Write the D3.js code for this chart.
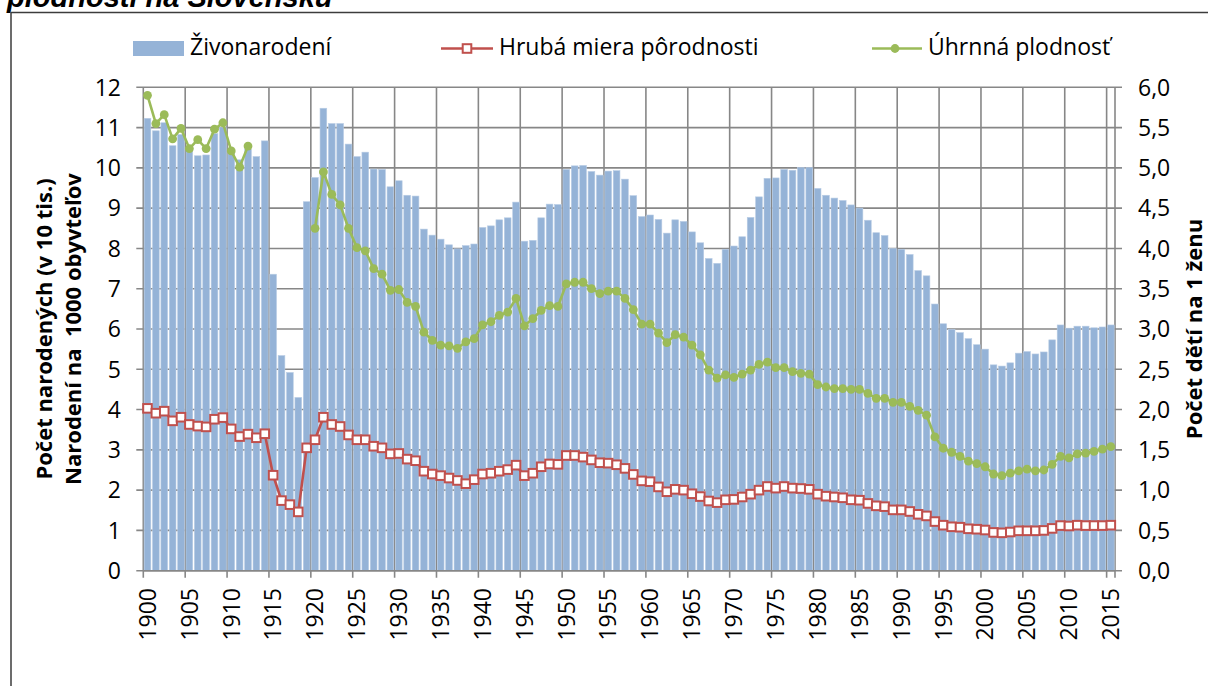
<!DOCTYPE html>
<html><head><meta charset="utf-8">
<script src="https://cdn.jsdelivr.net/npm/d3@7"></script>
<style>
html,body{margin:0;padding:0;background:#fff;overflow:hidden;}
svg{display:block;}
text{font-family:"Open Sans",sans-serif;fill:#000;}
</style></head>
<body>
<script>
const years = [1900,1901,1902,1903,1904,1905,1906,1907,1908,1909,1910,1911,1912,1913,1914,1915,1916,1917,1918,1919,
1920,1921,1922,1923,1924,1925,1926,1927,1928,1929,1930,1931,1932,1933,1934,1935,1936,1937,1938,1939,
1940,1941,1942,1943,1944,1945,1946,1947,1948,1949,1950,1951,1952,1953,1954,1955,1956,1957,1958,1959,
1960,1961,1962,1963,1964,1965,1966,1967,1968,1969,1970,1971,1972,1973,1974,1975,1976,1977,1978,1979,
1980,1981,1982,1983,1984,1985,1986,1987,1988,1989,1990,1991,1992,1993,1994,1995,1996,1997,1998,1999,
2000,2001,2002,2003,2004,2005,2006,2007,2008,2009,2010,2011,2012,2013,2014,2015];

// Živonarodení (v 10 tis.)
const births = [11.23,10.92,11.12,10.55,10.83,10.50,10.30,10.32,10.85,11.00,10.40,10.20,10.47,10.28,10.67,7.36,5.34,4.92,4.30,9.16,
9.76,11.48,11.10,11.10,10.59,10.28,10.39,9.97,9.96,9.53,9.68,9.32,9.30,8.48,8.33,8.23,8.09,7.99,8.07,8.11,
8.52,8.56,8.71,8.76,9.15,8.18,8.20,8.76,9.10,9.09,9.96,10.05,10.06,9.91,9.82,9.92,9.93,9.72,9.31,8.79,
8.83,8.72,8.38,8.71,8.67,8.41,8.14,7.75,7.63,7.98,8.06,8.29,8.77,9.28,9.74,9.75,9.96,9.94,10.01,10.01,
9.49,9.32,9.25,9.19,9.08,9.00,8.70,8.39,8.32,8.00,7.98,7.85,7.45,7.32,6.62,6.13,5.99,5.91,5.76,5.61,
5.50,5.11,5.08,5.16,5.40,5.44,5.38,5.43,5.73,6.10,6.02,6.07,6.07,6.03,6.05,6.10];

// Hrubá miera pôrodnosti
const crudeRate = [4.03,3.91,3.96,3.72,3.81,3.63,3.59,3.57,3.76,3.80,3.52,3.33,3.39,3.30,3.40,2.37,1.74,1.64,1.46,3.05,
3.25,3.81,3.63,3.58,3.37,3.25,3.25,3.09,3.05,2.90,2.91,2.77,2.73,2.47,2.40,2.36,2.30,2.24,2.16,2.26,
2.40,2.42,2.47,2.51,2.62,2.36,2.42,2.58,2.65,2.64,2.86,2.86,2.82,2.75,2.68,2.67,2.63,2.54,2.39,2.23,
2.21,2.08,1.96,2.02,2.00,1.91,1.84,1.73,1.69,1.76,1.77,1.83,1.90,2.00,2.09,2.05,2.09,2.05,2.04,2.02,
1.90,1.85,1.83,1.81,1.76,1.75,1.67,1.61,1.59,1.51,1.51,1.47,1.40,1.36,1.22,1.13,1.09,1.08,1.04,1.03,
1.01,0.95,0.94,0.96,0.99,0.99,0.99,1.00,1.05,1.12,1.11,1.13,1.12,1.12,1.12,1.13];

// Úhrnná plodnosť
const tfr = [5.90,5.55,5.66,5.36,5.49,5.24,5.35,5.24,5.48,5.56,5.21,5.01,5.27,null,null,null,null,null,null,null,
4.25,4.95,4.67,4.54,4.25,4.01,3.97,3.75,3.68,3.48,3.49,3.33,3.28,2.96,2.86,2.80,2.79,2.76,2.84,2.88,
3.05,3.09,3.17,3.21,3.38,3.04,3.13,3.23,3.29,3.28,3.56,3.58,3.58,3.50,3.44,3.47,3.47,3.38,3.24,3.06,
3.06,2.95,2.83,2.93,2.90,2.80,2.68,2.49,2.39,2.43,2.40,2.44,2.49,2.56,2.59,2.52,2.52,2.47,2.45,2.44,
2.31,2.28,2.26,2.26,2.25,2.25,2.20,2.14,2.14,2.09,2.09,2.04,1.99,1.93,1.66,1.52,1.47,1.42,1.36,1.33,
1.29,1.20,1.18,1.21,1.24,1.26,1.24,1.25,1.32,1.42,1.40,1.45,1.46,1.48,1.51,1.54];

const leftTicks = [0,1,2,3,4,5,6,7,8,9,10,11,12];
const rightTicks = [0,0.5,1,1.5,2,2.5,3,3.5,4,4.5,5,5.5,6];
const seriesNames = ["Živonarodení","Hrubá miera pôrodnosti","Úhrnná plodnosť"];
const titleText = "plodnosti na Slovensku";
const leftTitle = ["Počet narodených (v 10 tis.)","Narodení na  1000 obyvteľov"];
const rightTitle = "Počet dětí na 1 ženu";

const W = 1208, H = 686;
const X0 = 143.3, X1 = 1115, Y0 = 570.7, Y1 = 87.3;
const BLUE = "#95B3D7", RED = "#C0504D", GREEN = "#9BBB59", GRID = "#878787";

const svg = d3.select("body").append("svg").attr("width", W).attr("height", H);

// title (cut off at top, as in the reference)
svg.append("text").attr("x", 7).attr("y", 6.5)
  .style("font-family", "'Liberation Sans', Arial, sans-serif")
  .style("font-weight", "bold").style("font-style", "italic").style("font-size", "29px")
  .text(titleText);

// chart border
svg.append("rect").attr("x", 11).attr("y", 12.5).attr("width", 1210).attr("height", 700)
  .attr("fill", "none").attr("stroke", "#3c3c3c").attr("stroke-width", 1.5);

const x = d3.scaleBand().domain(years).range([X0, X1]).paddingInner(0.2).paddingOuter(0.1);
const yL = d3.scaleLinear().domain([0, 12]).range([Y0, Y1]);
const yR = d3.scaleLinear().domain([0, 6]).range([Y0, Y1]);
const step = x.step();
const boundary = i => X0 + i * step;

// horizontal gridlines
const gridG = svg.append("g");
gridG.selectAll("line.h").data(leftTicks).join("line")
  .attr("x1", X0 - 7).attr("x2", X1 + 7)
  .attr("y1", d => yL(d)).attr("y2", d => yL(d))
  .attr("stroke", GRID).attr("stroke-width", 1.6);
// vertical gridlines every 5 categories
const vIdx = d3.range(0, years.length + 1).filter(i => i % 5 === 0 || i === years.length);
gridG.selectAll("line.v").data(vIdx).join("line")
  .attr("x1", i => boundary(i)).attr("x2", i => boundary(i))
  .attr("y1", Y1).attr("y2", Y0 + 7)
  .attr("stroke", GRID).attr("stroke-width", 1.6);

// bars
svg.append("g").selectAll("rect").data(years).join("rect")
  .attr("x", (d) => x(d)).attr("width", x.bandwidth())
  .attr("y", (d, i) => yL(births[i])).attr("height", (d, i) => Y0 - yL(births[i]))
  .attr("fill", BLUE).attr("stroke", "#B8CCE4").attr("stroke-width", 0.6);

// axis baseline
svg.append("line").attr("x1", X0).attr("x2", X1).attr("y1", Y0).attr("y2", Y0)
  .attr("stroke", GRID).attr("stroke-width", 1.6);

const cx = d => x(d) + x.bandwidth() / 2;

// red line
const redPts = years.map((d, i) => [cx(d), yL(crudeRate[i])]);
svg.append("path").attr("d", d3.line()(redPts)).attr("fill", "none")
  .attr("stroke", RED).attr("stroke-width", 2.6).attr("stroke-linejoin", "round");
svg.append("g").selectAll("rect").data(redPts).join("rect")
  .attr("x", p => p[0] - 4.3).attr("y", p => p[1] - 4.3).attr("width", 8.6).attr("height", 8.6)
  .attr("fill", "#fff").attr("stroke", RED).attr("stroke-width", 2);

// green line
const greenData = years.map((d, i) => ({x: cx(d), v: tfr[i]}));
svg.append("path")
  .attr("d", d3.line().defined(p => p.v !== null).x(p => p.x).y(p => yR(p.v))(greenData))
  .attr("fill", "none").attr("stroke", GREEN).attr("stroke-width", 2.6).attr("stroke-linejoin", "round");
svg.append("g").selectAll("circle").data(greenData.filter(p => p.v !== null)).join("circle")
  .attr("cx", p => p.x).attr("cy", p => yR(p.v)).attr("r", 4.4).attr("fill", GREEN);

// left tick labels
svg.append("g").selectAll("text").data(leftTicks).join("text")
  .attr("x", 121).attr("y", d => yL(d)).attr("dy", "0.36em")
  .attr("text-anchor", "end").style("font-size", "23px").text(d => d);
// right tick labels
const fmtR = d => d3.format(".1f")(d).replace(".", ",");
svg.append("g").selectAll("text").data(rightTicks).join("text")
  .attr("x", 1138).attr("y", d => yR(d)).attr("dy", "0.36em")
  .attr("text-anchor", "start").style("font-size", "23px").text(fmtR);

// x labels
const xLab = years.filter((d, i) => i % 5 === 0);
svg.append("g").selectAll("text").data(xLab).join("text")
  .attr("transform", d => `translate(${cx(d)},${588}) rotate(-90)`)
  .attr("dy", "0.36em").attr("text-anchor", "end").style("font-size", "23px").text(d => d);

// axis titles
const midY = (Y0 + Y1) / 2;
svg.append("g").selectAll("text").data(leftTitle).join("text")
  .attr("transform", (d, i) => `translate(${i === 0 ? 44 : 73},${midY}) rotate(-90)`)
  .attr("dy", "0.36em").attr("text-anchor", "middle")
  .style("font-size", "22px").style("font-weight", "bold").style("white-space", "pre")
  .text(d => d);
svg.append("text").attr("transform", `translate(1194,${midY}) rotate(-90)`)
  .attr("dy", "0.36em").attr("text-anchor", "middle")
  .style("font-size", "22px").style("font-weight", "bold").text(rightTitle);

// legend
const lg = svg.append("g");
lg.append("rect").attr("x", 133).attr("y", 41).attr("width", 51).attr("height", 15).attr("fill", BLUE);
lg.append("text").attr("x", 190).attr("y", 55).style("font-size", "23px").text(seriesNames[0]);
lg.append("line").attr("x1", 441).attr("x2", 493).attr("y1", 48.5).attr("y2", 48.5)
  .attr("stroke", RED).attr("stroke-width", 2.6);
lg.append("rect").attr("x", 462.7).attr("y", 44.2).attr("width", 8.6).attr("height", 8.6)
  .attr("fill", "#fff").attr("stroke", RED).attr("stroke-width", 2);
lg.append("text").attr("x", 499).attr("y", 55).style("font-size", "23px").text(seriesNames[1]);
lg.append("line").attr("x1", 872).attr("x2", 922).attr("y1", 48.5).attr("y2", 48.5)
  .attr("stroke", GREEN).attr("stroke-width", 2.6);
lg.append("circle").attr("cx", 895).attr("cy", 48.5).attr("r", 4.4).attr("fill", GREEN);
lg.append("text").attr("x", 928).attr("y", 55).style("font-size", "23px").text(seriesNames[2]);
</script>
</body></html>
